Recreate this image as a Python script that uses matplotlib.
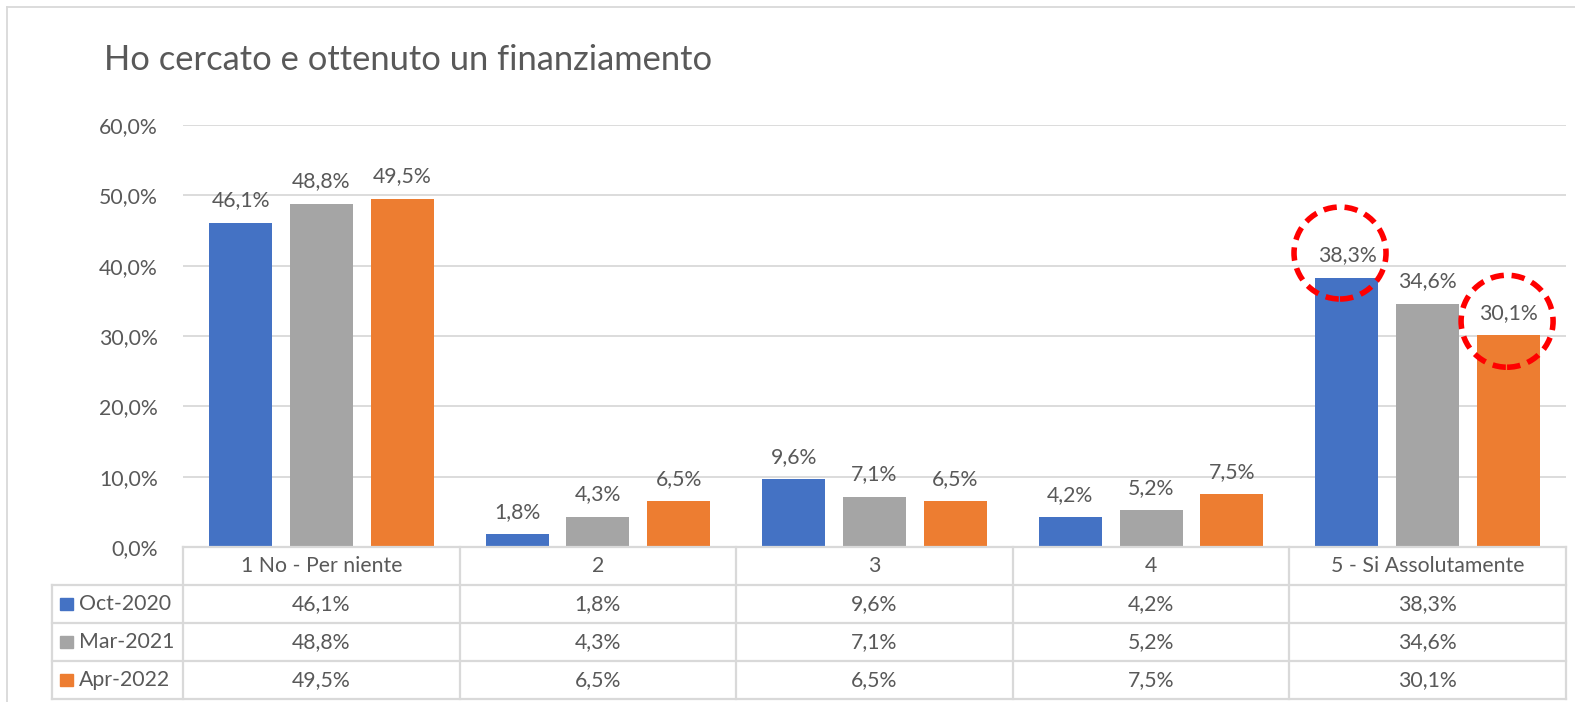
import matplotlib
matplotlib.use('Agg')
import matplotlib.pyplot as plt
from matplotlib.patches import Rectangle, Ellipse
from matplotlib.lines import Line2D

# Chart data
categories = ['1 No - Per niente', '2', '3', '4', '5 - Si Assolutamente']
series_names = ['Oct-2020', 'Mar-2021', 'Apr-2022']
oct_2020 = [46.1, 1.8, 9.6, 4.2, 38.3]
mar_2021 = [48.8, 4.3, 7.1, 5.2, 34.6]
apr_2022 = [49.5, 6.5, 6.5, 7.5, 30.1]
y_ticks = [0, 10, 20, 30, 40, 50, 60]
title = 'Ho cercato e ottenuto un finanziamento'
# labels circled in red: (series index, category index)
highlighted = [(0, 4), (2, 4)]

colors = ['#4472C4', '#A5A5A5', '#ED7D31']
text_color = '#595959'
grid_color = '#D9D9D9'

plt.rcParams['font.family'] = ['Lato', 'DejaVu Sans']

W, H = 1575, 702
fig = plt.figure(figsize=(W / 100, H / 100), dpi=100)

def fmt(v):
    return f'{v:.1f}%'.replace('.', ',')

# Main plot area
ax = fig.add_axes([183 / W, (H - 547) / H, (1566 - 183) / W, (547 - 125) / H])
ax.set_xlim(-0.5, len(categories) - 0.5)
ax.set_ylim(0, 60)

series = [oct_2020, mar_2021, apr_2022]
bar_w = 0.228
step = 0.292
x = list(range(len(categories)))
for i, vals in enumerate(series):
    xs = [c + (i - 1) * step for c in x]
    bars = ax.bar(xs, vals, width=bar_w, color=colors[i], zorder=3)
    ax.bar_label(bars, labels=[fmt(v) for v in vals], padding=9,
                 fontsize=15.3, color=text_color)

ax.set_yticks(y_ticks)
ax.set_yticklabels([fmt(v) for v in y_ticks], fontsize=15.3, color=text_color)
ax.tick_params(axis='y', length=0, pad=18)
ax.set_xticks([])
for s in ax.spines.values():
    s.set_visible(False)
ax.grid(axis='y', color=grid_color, linewidth=1.3, zorder=0)

# Red dashed circles around highlighted labels
circle_offsets = {(0, 4): (-0.025, 3.5), (2, 4): (-0.005, 2.0)}
for si, ci in highlighted:
    dx, dy = circle_offsets[(si, ci)]
    cx = ci + (si - 1) * step + dx
    cy = series[si][ci] + dy
    ax.add_patch(Ellipse((cx, cy), width=92 / 276.6, height=92 / 7.033,
                         fill=False, edgecolor='#FF0000', linewidth=4.0,
                         linestyle=(0, (2.4, 1.4)), zorder=5, clip_on=False))

# Data table below the plot
tab = fig.add_axes([183 / W, (H - 699) / H, (1566 - 183) / W, (699 - 547) / H])
tab.set_xlim(-0.5, len(categories) - 0.5)
tab.set_ylim(0, 4)
tab.axis('off')
left = -0.5 - (183 - 52) / 276.6
lw = 1.6
for k in range(len(categories) + 1):
    tab.plot([-0.5 + k, -0.5 + k], [0, 4], color=grid_color, lw=lw, clip_on=False)
tab.plot([left, left], [0, 3], color=grid_color, lw=lw, clip_on=False)
for r in range(4):
    tab.plot([left, len(categories) - 0.5], [r, r], color=grid_color, lw=lw, clip_on=False)
tab.plot([-0.5, len(categories) - 0.5], [4, 4], color=grid_color, lw=lw, clip_on=False)

for c, name in enumerate(categories):
    tab.text(c, 3.5, name, ha='center', va='center', fontsize=15.3, color=text_color)
for i, (name, vals) in enumerate(zip(series_names, series)):
    yc = 2.5 - i
    tab.add_patch(Rectangle((left + 8 / 276.6, yc - 0.17), 13 / 276.6, 0.34,
                            color=colors[i], clip_on=False))
    tab.text(left + 27 / 276.6, yc, name, ha='left', va='center',
             fontsize=15.3, color=text_color)
    for c, v in enumerate(vals):
        tab.text(c, yc, fmt(v), ha='center', va='center', fontsize=15.3, color=text_color)

# Title and chart border
fig.text(104 / W, 1 - 60 / H, title, fontsize=24.8, color=text_color, ha='left', va='center')
fig.add_artist(Line2D([7 / W, 7 / W], [0, 1 - 7 / H], color=grid_color, lw=1.3))
fig.add_artist(Line2D([7 / W, 1], [1 - 7 / H, 1 - 7 / H], color=grid_color, lw=1.3))

fig.savefig('out.png', dpi=100)
